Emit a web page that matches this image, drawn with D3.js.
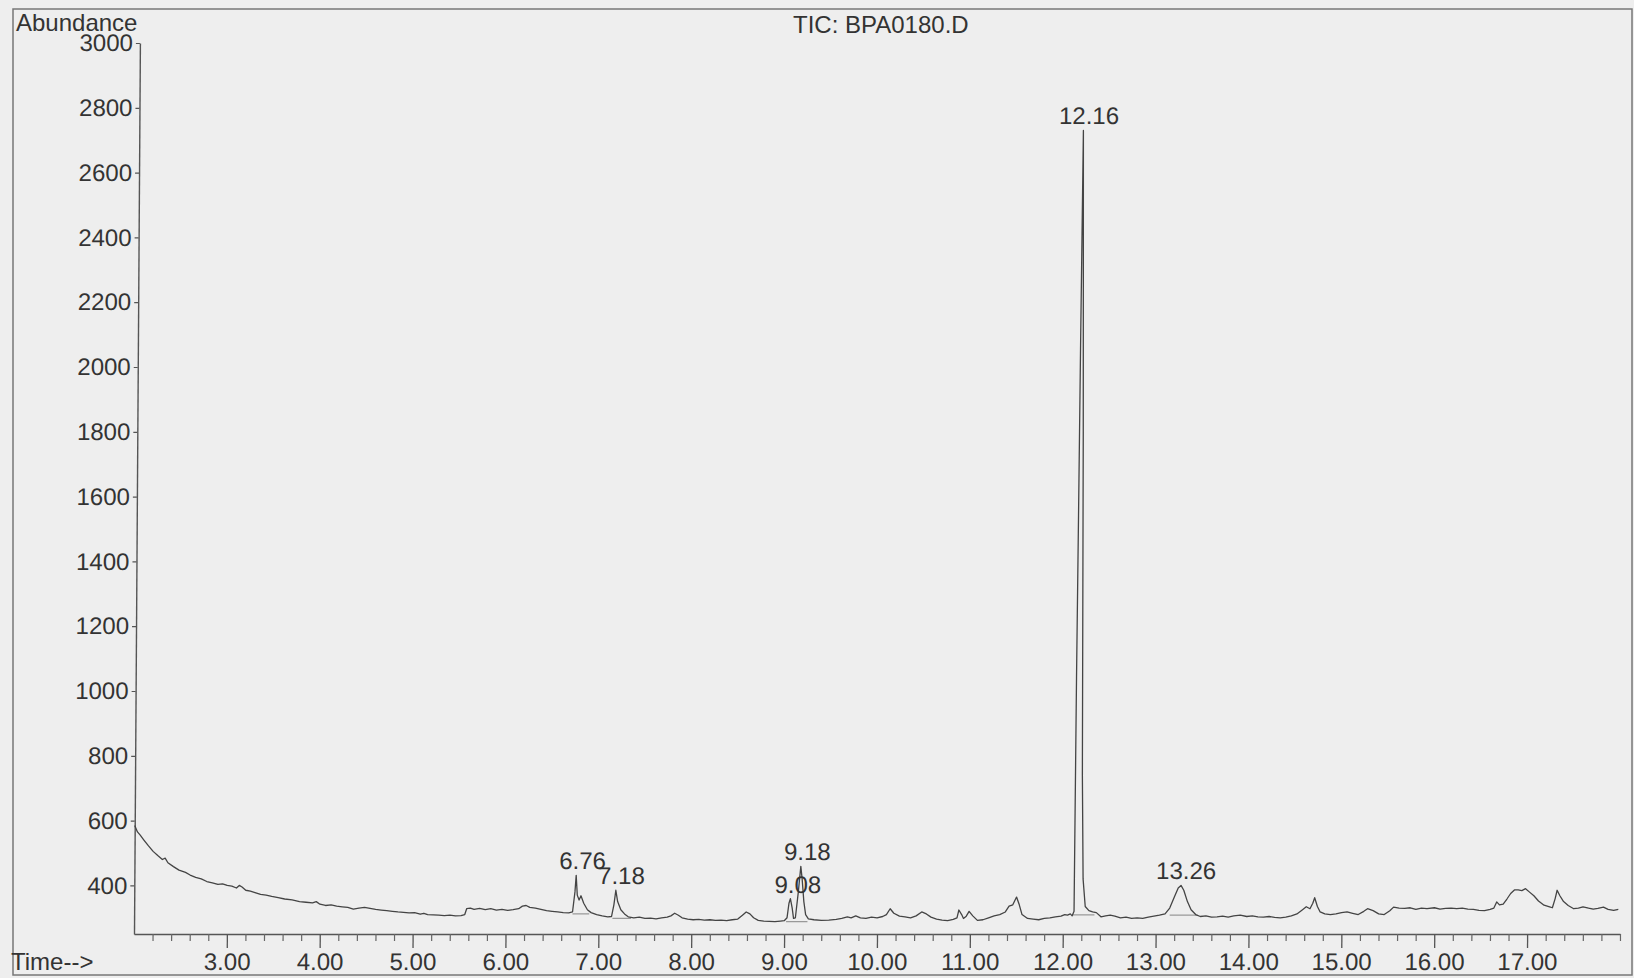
<!DOCTYPE html>
<html>
<head>
<meta charset="utf-8">
<script src="https://cdn.jsdelivr.net/npm/d3@7.9.0/dist/d3.min.js"></script>
<style>
  html, body { margin: 0; padding: 0; background: #eeeeee; }
  svg { display: block; }
  text { font-family: "Liberation Sans", Arial, sans-serif; fill: #333; }
</style>
</head>
<body>
<svg id="chart" width="1634" height="978"></svg>
<script>
// Chart text
const title = 'TIC: BPA0180.D';
const yTitle = 'Abundance';
const xTitle = 'Time-->';

// Axis ticks
const yTicks = [400, 600, 800, 1000, 1200, 1400, 1600, 1800, 2000, 2200, 2400, 2600, 2800, 3000];
const xMajorTicks = [3, 4, 5, 6, 7, 8, 9, 10, 11, 12, 13, 14, 15, 16, 17];

// Trace: retention time (min) and abundance
const times = [
  2.00, 2.03, 2.06, 2.10, 2.15, 2.20, 2.25, 2.30, 2.33, 2.36, 2.42, 2.48, 2.55, 2.60, 2.66, 2.72, 2.78, 2.84, 2.90, 2.95,
  3.00, 3.05, 3.10, 3.13, 3.16, 3.20, 3.25, 3.30, 3.36, 3.42, 3.48, 3.55, 3.62, 3.70, 3.78, 3.85, 3.92, 3.96,
  4.00, 4.06, 4.12, 4.18, 4.24, 4.30, 4.36, 4.42, 4.48, 4.54, 4.60, 4.66, 4.72, 4.78, 4.84, 4.90, 4.96,
  5.02, 5.08, 5.12, 5.16, 5.22, 5.28, 5.34, 5.40, 5.46, 5.52, 5.56, 5.58, 5.62, 5.66, 5.72, 5.78, 5.84, 5.90, 5.96,
  6.02, 6.08, 6.14, 6.18, 6.22, 6.26, 6.32, 6.38, 6.44, 6.50, 6.56, 6.62, 6.68, 6.72, 6.745, 6.757, 6.77, 6.79, 6.81, 6.84, 6.88, 6.92, 6.98,
  7.04, 7.10, 7.14, 7.165, 7.185, 7.205, 7.24, 7.28, 7.32, 7.38, 7.44, 7.50, 7.56, 7.62, 7.68, 7.74, 7.78, 7.82, 7.86, 7.90, 7.96,
  8.02, 8.08, 8.14, 8.20, 8.26, 8.32, 8.38, 8.44, 8.50, 8.55, 8.59, 8.63, 8.67, 8.72, 8.78, 8.84, 8.90, 8.96,
  9.00, 9.03, 9.05, 9.065, 9.085, 9.10, 9.12, 9.15, 9.175, 9.19, 9.21, 9.23, 9.26, 9.32, 9.40, 9.48, 9.56, 9.62, 9.68, 9.72, 9.77, 9.82, 9.88, 9.94,
  10.00, 10.06, 10.10, 10.14, 10.18, 10.24, 10.30, 10.36, 10.42, 10.48, 10.53, 10.58, 10.64, 10.70, 10.76, 10.82, 10.86, 10.88, 10.91, 10.93, 10.96, 10.99,
  11.03, 11.08, 11.14, 11.20, 11.26, 11.32, 11.38, 11.42, 11.46, 11.50, 11.53, 11.56, 11.62, 11.68, 11.74, 11.80, 11.86, 11.92, 11.98,
  12.02, 12.05, 12.08, 12.10, 12.12, 12.13, 12.14, 12.15, 12.165, 12.185, 12.20, 12.215, 12.24, 12.28, 12.32, 12.36, 12.41, 12.46, 12.51, 12.56, 12.62, 12.68, 12.74, 12.80, 12.86, 12.92, 12.98,
  13.04, 13.10, 13.15, 13.20, 13.24, 13.27, 13.30, 13.34, 13.38, 13.43, 13.48, 13.54, 13.60, 13.66, 13.72, 13.78, 13.84, 13.91, 13.98,
  14.04, 14.10, 14.16, 14.22, 14.28, 14.34, 14.40, 14.46, 14.52, 14.58, 14.62, 14.66, 14.69, 14.71, 14.74, 14.77, 14.82, 14.88, 14.94,
  15.00, 15.06, 15.12, 15.18, 15.24, 15.28, 15.34, 15.40, 15.46, 15.52, 15.56, 15.62, 15.68, 15.74, 15.80, 15.86, 15.92,
  16.00, 16.06, 16.12, 16.18, 16.24, 16.30, 16.36, 16.42, 16.48, 16.54, 16.60, 16.64, 16.67, 16.70, 16.74, 16.78, 16.82, 16.86, 16.90, 16.94, 16.98,
  17.02, 17.07, 17.12, 17.18, 17.24, 17.27, 17.30, 17.32, 17.35, 17.39, 17.44, 17.50, 17.55, 17.60, 17.66, 17.71, 17.76, 17.82, 17.87, 17.93, 17.98
];
const abundance = [
  585, 565, 555, 540, 522, 505, 492, 480, 484, 470, 458, 447, 440, 432, 425, 420, 412, 408, 403, 405,
  400, 398, 392, 400, 395, 385, 382, 378, 372, 370, 366, 362, 358, 355, 350, 348, 346, 350,
  342, 338, 340, 336, 334, 332, 327, 330, 332, 329, 326, 324, 322, 320, 318, 317, 315,
  316, 311, 314, 310, 309, 308, 307, 308, 306, 307, 310, 328, 330, 326, 329, 325, 328, 324, 326,
  323, 325, 328, 336, 338, 332, 330, 326, 322, 320, 318, 316, 315, 318, 380, 431, 370, 355, 368, 345, 325, 316, 310,
  306, 303, 304, 340, 385, 350, 325, 312, 303, 300, 302, 298, 299, 297, 300, 302, 306, 314, 308, 300, 296,
  294, 295, 293, 294, 292, 293, 291, 294, 296, 308, 318, 312, 300, 292, 290, 289, 288, 290,
  291, 300, 345, 359, 330, 298, 300, 380, 459, 420, 350, 310, 297, 294, 292, 293, 295, 298, 303, 300, 306, 300, 298, 302,
  300, 304, 310, 328, 314, 305, 303, 300, 306, 318, 312, 302, 296, 293, 291, 295, 300, 324, 310, 298, 305, 320,
  306, 292, 294, 300, 306, 310, 318, 336, 340, 364, 340, 310, 298, 296, 294, 298, 300, 303, 305,
  310, 308, 312, 306, 320, 1040, 1540, 2070, 2730, 1800, 740, 420, 335, 322, 318, 316, 303, 306, 308, 305, 300, 302, 298, 300, 298, 302, 305,
  308, 312, 330, 365, 392, 400, 385, 350, 325, 310, 304, 306, 302, 303, 305, 302, 306, 308, 304,
  306, 303, 302, 304, 301, 300, 302, 306, 312, 325, 334, 328, 345, 362, 335, 318, 312, 310, 312,
  316, 318, 314, 310, 320, 328, 322, 312, 310, 322, 333, 330, 329, 331, 326, 330, 328,
  331, 327, 329, 330, 328, 330, 327, 326, 323, 322, 326, 330, 349, 340, 342, 358, 375, 386, 386, 384, 390,
  380, 368, 352, 339, 334, 331, 360, 385, 368, 350, 338, 328, 330, 334, 330, 327, 329, 333, 326, 323, 326
];

// Labelled peaks
const peakTimes = [6.76, 7.18, 9.08, 9.18, 12.16, 13.26];
const peakApex = [431, 385, 359, 459, 2730, 400];

// Integration baselines under labelled peaks: start, end, level
const baseStart = [6.72, 7.15, 9.02, 12.10, 13.15];
const baseEnd = [6.90, 7.35, 9.25, 12.34, 13.45];
const baseLevel = [312, 298, 288, 309, 308];

const width = 1634;
const height = 978;
const plot = { left: 134, right: 1620, top: 43, bottom: 934 };

const svg = d3.select('#chart');

// Outer frame
svg.append('rect')
  .attr('x', 13).attr('y', 9)
  .attr('width', 1619).attr('height', 966)
  .attr('fill', 'none')
  .attr('stroke', '#777')
  .attr('stroke-width', 1.5);

svg.append('text')
  .attr('x', 793).attr('y', 33)
  .style('font-size', '24px')
  .text(title);

svg.append('text')
  .attr('x', 16).attr('y', 31)
  .style('font-size', '24px')
  .text(yTitle);

svg.append('text')
  .attr('x', 11).attr('y', 970)
  .style('font-size', '24px')
  .text(xTitle);

// the scan leans a little: shear the plot so the top sits a few px to the right
const g = svg.append('g')
  .attr('transform', `translate(0,${plot.bottom}) skewX(-0.38) translate(0,${-plot.bottom})`);

const x = d3.scaleLinear().domain([2, 18]).range([plot.left, plot.right]);
const y = d3.scaleLinear().domain([250, 3000]).range([plot.bottom, plot.top]);

// Y axis
const yAxis = g.append('g')
  .attr('transform', `translate(${plot.left},0)`)
  .call(d3.axisLeft(y).tickValues(yTicks).tickSize(4).tickPadding(3).tickSizeOuter(0).tickFormat(d3.format('d')));
yAxis.select('.domain').attr('stroke', '#555').attr('stroke-width', 1.4);
yAxis.selectAll('.tick line').attr('stroke', '#555').attr('stroke-width', 1.2);
yAxis.selectAll('.tick text')
  .style('font-size', '24px')
  .style('font-family', '"Liberation Sans", Arial, sans-serif')
  .attr('fill', '#333');

// X axis: minor ticks every 0.2 min, major every minute
const minorTicks = d3.range(11, 91).filter((i) => i % 5 !== 0 || i === 90).map((i) => i / 5);
const xMinor = g.append('g')
  .attr('transform', `translate(0,${plot.bottom})`)
  .call(d3.axisBottom(x).tickValues(minorTicks).tickSize(7).tickFormat('').tickSizeOuter(0));
xMinor.select('.domain').attr('stroke', '#555').attr('stroke-width', 1.4);
xMinor.selectAll('.tick line').attr('stroke', '#666').attr('stroke-width', 1.2);

const xMajor = g.append('g')
  .attr('transform', `translate(0,${plot.bottom})`)
  .call(d3.axisBottom(x).tickValues(xMajorTicks).tickSize(14).tickPadding(5).tickSizeOuter(0).tickFormat(d3.format('.2f')));
xMajor.select('.domain').remove();
xMajor.selectAll('.tick line').attr('stroke', '#555').attr('stroke-width', 1.3);
xMajor.selectAll('.tick text')
  .style('font-size', '24px')
  .style('font-family', '"Liberation Sans", Arial, sans-serif')
  .attr('fill', '#333');

// Integration baselines
g.append('g')
  .selectAll('line')
  .data(baseStart.map((t0, i) => ({ t0, t1: baseEnd[i], v: baseLevel[i] })))
  .join('line')
  .attr('x1', (d) => x(d.t0))
  .attr('x2', (d) => x(d.t1))
  .attr('y1', (d) => y(d.v))
  .attr('y2', (d) => y(d.v))
  .attr('stroke', '#999')
  .attr('stroke-width', 1.2);

// Trace
const trace = times.map((t, i) => ({ t, v: abundance[i] }));
g.append('path')
  .datum(trace)
  .attr('fill', 'none')
  .attr('stroke', '#444')
  .attr('stroke-width', 1.3)
  .attr('stroke-linejoin', 'round')
  .attr('d', d3.line().x((d) => x(d.t)).y((d) => y(d.v)));

// Peak labels
g.append('g')
  .selectAll('text')
  .data(peakTimes.map((t, i) => ({ t, v: peakApex[i] })))
  .join('text')
  .attr('x', (d) => x(d.t) + 6)
  .attr('y', (d) => y(d.v) - 6)
  .attr('text-anchor', 'middle')
  .style('font-size', '24px')
  .text((d) => d3.format('.2f')(d.t));
</script>
</body>
</html>
